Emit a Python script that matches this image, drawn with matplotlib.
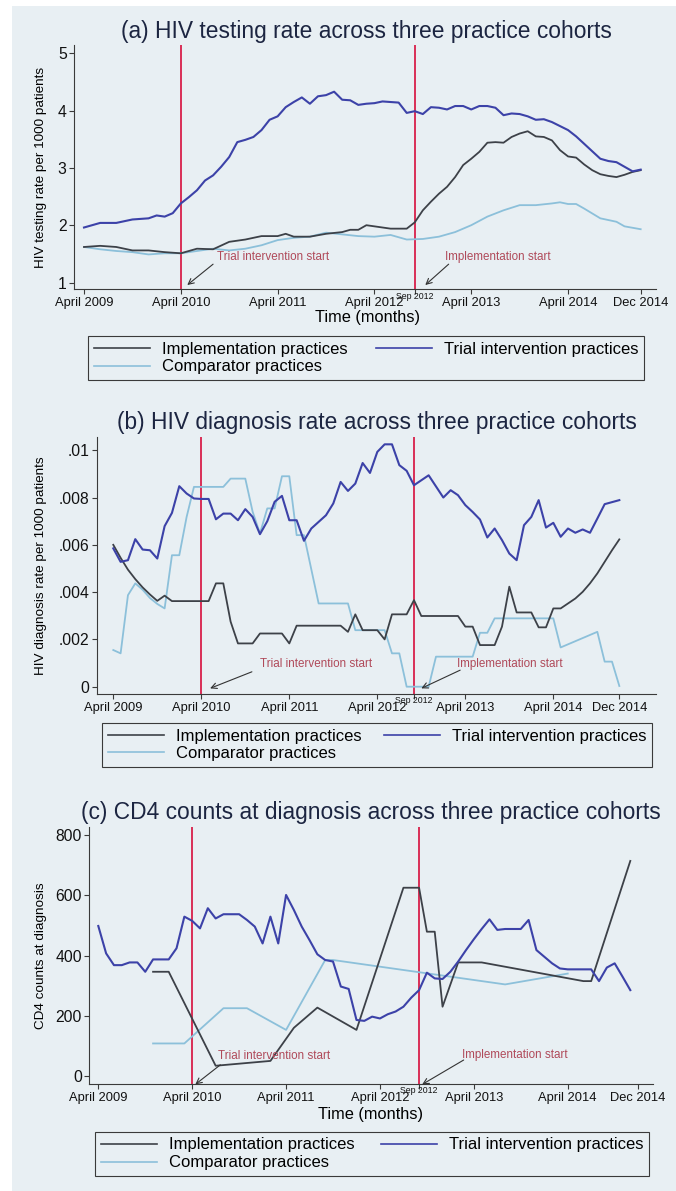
"""Three stacked Stata-style panels: HIV testing, diagnosis and CD4 counts by practice cohort."""

import matplotlib

matplotlib.use("Agg")
import matplotlib.pyplot as plt
from matplotlib.lines import Line2D
from matplotlib.patches import Rectangle

plt.rcParams["font.family"] = ["Liberation Sans", "DejaVu Sans"]

W, H = 676, 1191

# ── time axis: month index, 0 = April 2009 ───────────────────────────────────
TICK_MONTHS = [0, 12, 24, 36, 48, 60, 69]
TICK_LABELS = ["April 2009", "April 2010", "April 2011", "April 2012",
               "April 2013", "April 2014", "Dec 2014"]
SEP_2012 = 41
TRIAL_START = 12
IMPL_START = 41

# ── (a) HIV testing rate per 1000 patients ───────────────────────────────────
TEST_TRIAL_X = [0, 2, 4, 6, 8, 9, 10, 11, 12, 13, 14, 15, 16, 17, 18, 19, 20, 21,
                22, 23, 24, 25, 26, 27, 28, 29, 30, 31, 32, 33, 34, 35, 36, 37, 38,
                39, 40, 41, 42, 43, 44, 45, 46, 47, 48, 49, 50, 51, 52, 53, 54, 55,
                56, 57, 58, 59, 60, 61, 62, 63, 64, 65, 66, 67, 68, 69]
TEST_TRIAL = [1.96, 2.04, 2.04, 2.10, 2.12, 2.17, 2.15, 2.21, 2.38, 2.49, 2.61, 2.78,
              2.87, 3.02, 3.19, 3.45, 3.49, 3.54, 3.66, 3.84, 3.90, 4.06, 4.15, 4.23,
              4.12, 4.25, 4.27, 4.33, 4.19, 4.18, 4.10, 4.12, 4.13, 4.16, 4.15, 4.14,
              3.96, 3.99, 3.94, 4.06, 4.05, 4.02, 4.08, 4.08, 4.02, 4.08, 4.08, 4.05,
              3.92, 3.95, 3.94, 3.90, 3.84, 3.85, 3.80, 3.73, 3.66, 3.55, 3.42, 3.29,
              3.16, 3.12, 3.10, 3.02, 2.94, 2.97]
TEST_IMPL_X = [0, 2, 4, 6, 8, 10, 12, 14, 16, 18, 20, 22, 24, 25, 26, 28, 30, 32, 33,
               34, 35, 36, 38, 40, 41, 42, 43, 44, 45, 46, 47, 48, 49, 50, 51, 52, 53,
               54, 55, 56, 57, 58, 59, 60, 61, 62, 63, 64, 65, 66, 67, 68, 69]
TEST_IMPL = [1.62, 1.64, 1.62, 1.56, 1.56, 1.53, 1.51, 1.59, 1.58, 1.71, 1.75, 1.81,
             1.81, 1.85, 1.80, 1.80, 1.85, 1.88, 1.92, 1.92, 2.00, 1.98, 1.94, 1.94,
             2.05, 2.26, 2.41, 2.55, 2.67, 2.84, 3.05, 3.16, 3.28, 3.44, 3.45, 3.44,
             3.54, 3.60, 3.64, 3.55, 3.54, 3.48, 3.31, 3.20, 3.18, 3.06, 2.96, 2.89,
             2.86, 2.84, 2.88, 2.93, 2.96]
TEST_COMP_X = [0, 2, 4, 6, 8, 10, 12, 14, 16, 18, 20, 22, 24, 26, 28, 30, 32, 34, 36,
               38, 40, 42, 44, 46, 48, 50, 52, 54, 56, 58, 59, 60, 61, 62, 64, 66, 67, 69]
TEST_COMP = [1.62, 1.58, 1.55, 1.53, 1.49, 1.51, 1.51, 1.55, 1.59, 1.56, 1.59, 1.65,
             1.74, 1.78, 1.80, 1.87, 1.84, 1.81, 1.80, 1.83, 1.75, 1.76, 1.80, 1.88,
             2.00, 2.15, 2.26, 2.35, 2.35, 2.38, 2.40, 2.37, 2.37, 2.29, 2.12, 2.06,
             1.98, 1.93]

# ── (b) HIV diagnosis rate per 1000 patients (values in thousandths) ─────────
DIAG_TRIAL_X = list(range(0, 42)) + [43] + list(range(45, 68)) + [69]
DIAG_TRIAL = [5.85, 5.28, 5.35, 6.24, 5.80, 5.77, 5.42, 6.79, 7.35, 8.48, 8.17, 7.96,
              7.94, 7.94, 7.08, 7.32, 7.32, 7.04, 7.51, 7.18, 6.45, 7.00, 7.82, 8.07,
              7.04, 7.04, 6.17, 6.69, 6.97, 7.25, 7.75, 8.66, 8.28, 8.59, 9.46, 9.04,
              9.93, 10.25, 10.25, 9.37, 9.13, 8.52, 8.94, 8.00, 8.31, 8.10, 7.68, 7.39,
              7.07, 6.31, 6.69, 6.20, 5.63, 5.35, 6.83, 7.18, 7.89, 6.73, 6.93, 6.34,
              6.69, 6.51, 6.65, 6.51, 7.11, 7.72, 7.89]
DIAG_IMPL_X = [0, 1, 2, 3, 4, 5, 6, 7, 8, 13, 14, 15, 16, 17, 19, 20, 23, 24, 25, 31,
               32, 33, 34, 36, 37, 38, 40, 41, 42, 47, 48, 49, 50, 52, 53, 54, 55, 57,
               58, 59, 60, 61, 62, 63, 64, 65, 66, 67, 68, 69]
DIAG_IMPL = [6.00, 5.45, 4.95, 4.55, 4.20, 3.90, 3.63, 3.85, 3.62, 3.62, 4.37, 4.37,
             2.75, 1.83, 1.83, 2.25, 2.25, 1.83, 2.58, 2.58, 2.32, 3.06, 2.39, 2.39,
             2.00, 3.06, 3.06, 3.66, 2.99, 2.99, 2.54, 2.54, 1.76, 1.76, 2.54, 4.23,
             3.14, 3.14, 2.51, 2.51, 3.31, 3.31, 3.52, 3.73, 4.01, 4.37, 4.79, 5.28,
             5.77, 6.23]
DIAG_COMP_X = [0, 1, 2, 3, 4, 5, 6, 7, 8, 9, 10, 11, 15, 16, 18, 19, 20, 21, 22, 23,
               24, 25, 26, 28, 32, 33, 37, 38, 39, 40, 43, 44, 49, 50, 51, 52, 60, 61,
               66, 67, 68, 69]
DIAG_COMP = [1.55, 1.41, 3.87, 4.37, 4.10, 3.75, 3.50, 3.31, 5.56, 5.56, 7.18, 8.45,
             8.45, 8.80, 8.80, 7.40, 6.48, 7.54, 7.54, 8.90, 8.90, 6.41, 6.41, 3.52,
             3.52, 2.39, 2.39, 1.41, 1.41, 0.00, 0.00, 1.27, 1.27, 2.28, 2.28, 2.89,
             2.89, 1.66, 2.32, 1.06, 1.06, 0.03]

# ── (c) CD4 counts at diagnosis ──────────────────────────────────────────────
CD4_TRIAL_X = list(range(0, 69))
CD4_TRIAL = [498, 407, 368, 368, 377, 377, 346, 387, 387, 387, 424, 529, 515, 490,
             557, 523, 537, 537, 537, 518, 496, 440, 529, 440, 601, 551, 496, 451,
             404, 385, 380, 297, 289, 186, 183, 197, 191, 205, 214, 230, 260, 285,
             343, 324, 322, 346, 380, 418, 454, 488, 520, 485, 488, 488, 488, 518,
             418, 396, 374, 357, 354, 354, 354, 354, 315, 360, 374, 330, 285]
CD4_IMPL_X = [7, 9, 15, 22, 25, 28, 33, 39, 41, 42, 43, 44, 46, 49, 62, 63, 68]
CD4_IMPL = [346, 346, 34, 50, 160, 227, 153, 625, 625, 479, 479, 230, 377, 377,
            315, 315, 714]
CD4_COMP_X = [7, 11, 16, 19, 24, 29, 30, 52, 60]
CD4_COMP = [108, 108, 225, 225, 153, 385, 385, 304, 340]

# ── styling ──────────────────────────────────────────────────────────────────
BG = "#e8eff3"
AXIS = "#3a3a3a"
C_IMPL = "#3d4148"
C_TRIAL = "#3c42a8"
C_COMP = "#8cc0da"
C_RED = "#d81f4a"
C_NOTE = "#b04a5a"
C_TITLE = "#1c2541"


def make_axes(fig, left, top, right, bottom, xlim, ylim):
    """Axes placed by pixel box (left, top, right, bottom) on the 676x1191 canvas."""
    ax = fig.add_axes([left / W, 1 - bottom / H, (right - left) / W, (bottom - top) / H])
    ax.set_facecolor("none")
    for s in ("top", "right"):
        ax.spines[s].set_visible(False)
    for s in ("left", "bottom"):
        ax.spines[s].set_color(AXIS)
        ax.spines[s].set_linewidth(0.8)
    ax.set_xlim(*xlim)
    ax.set_ylim(*ylim)
    ax.set_xticks(TICK_MONTHS, TICK_LABELS)
    ax.set_xticks([SEP_2012], ["Sep 2012"], minor=True)
    ax.tick_params(axis="both", which="both", direction="out", length=3.3,
                   width=0.8, color=AXIS, labelcolor="#111111")
    ax.tick_params(axis="x", which="major", labelsize=9.3, pad=2.2)
    ax.tick_params(axis="x", which="minor", labelsize=6.3, pad=-1.8)
    ax.tick_params(axis="y", labelsize=11.3, pad=2)
    ax.axvline(TRIAL_START, color=C_RED, lw=1.3, zorder=1)
    ax.axvline(IMPL_START, color=C_RED, lw=1.3, zorder=1)
    return ax


def note(ax, text, text_xy, tail, head):
    ax.text(text_xy[0], text_xy[1], text, color=C_NOTE, fontsize=8.4,
            ha="left", va="center")
    ax.annotate("", xy=head, xytext=tail,
                arrowprops=dict(arrowstyle="->", color="#333333", lw=0.8,
                                shrinkA=0, shrinkB=0))


def add_legend(fig, left, top, right, bottom):
    handles = [Line2D([], [], color=C_IMPL, lw=1.2),
               Line2D([], [], color=C_COMP, lw=1.2),
               Line2D([], [], color=C_TRIAL, lw=1.2)]
    labels = ["Implementation practices", "Comparator practices",
              "Trial intervention practices"]
    leg = fig.legend(handles, labels, ncol=2, loc="upper left", mode="expand",
                     bbox_to_anchor=(left / W, 1 - bottom / H, (right - left) / W,
                                     (bottom - top) / H),
                     bbox_transform=fig.transFigure, borderaxespad=0,
                     fancybox=False, edgecolor=AXIS, facecolor=BG, framealpha=1,
                     fontsize=12, handlelength=3.4, handletextpad=0.7,
                     labelspacing=0.17, borderpad=0.33)
    leg.get_frame().set_linewidth(0.8)


fig = plt.figure(figsize=(W / 100, H / 100), dpi=100, facecolor="white")
fig.add_artist(Rectangle((12 / W, 0), 1, 1 - 6 / H, transform=fig.transFigure,
                         facecolor=BG, edgecolor="none", zorder=-10))

# ── (a) ──────────────────────────────────────────────────────────────────────
ax = make_axes(fig, 74, 45, 656, 289.5, (-1.24, 70.9), (0.878, 5.145))
ax.plot(TEST_COMP_X, TEST_COMP, color=C_COMP, lw=1.3)
ax.plot(TEST_IMPL_X, TEST_IMPL, color=C_IMPL, lw=1.3)
ax.plot(TEST_TRIAL_X, TEST_TRIAL, color=C_TRIAL, lw=1.5)
ax.set_yticks([1, 2, 3, 4, 5])
note(ax, "Trial intervention start", (16.5, 1.445), (16.0, 1.32), (12.8, 0.956))
note(ax, "Implementation start", (44.7, 1.445), (45.2, 1.32), (42.3, 0.956))
fig.text(366 / W, 1 - 31.7 / H, "(a) HIV testing rate across three practice cohorts",
         ha="center", va="center", fontsize=16.4, color=C_TITLE)
fig.text(41 / W, 1 - 167 / H, "HIV testing rate per 1000 patients", rotation=90,
         ha="center", va="center", fontsize=9.7)
fig.text(367 / W, 1 - 318 / H, "Time (months)", ha="center", va="center", fontsize=11.8)
add_legend(fig, 88, 336, 644, 381)

# ── (b) ──────────────────────────────────────────────────────────────────────
ax = make_axes(fig, 97, 437, 656, 694, (-2.22, 74.0), (-0.000309, 0.01056))
ax.plot(DIAG_COMP_X, [v / 1000 for v in DIAG_COMP], color=C_COMP, lw=1.3)
ax.plot(DIAG_IMPL_X, [v / 1000 for v in DIAG_IMPL], color=C_IMPL, lw=1.3)
ax.plot(DIAG_TRIAL_X, [v / 1000 for v in DIAG_TRIAL], color=C_TRIAL, lw=1.5)
ax.set_yticks([0, 0.002, 0.004, 0.006, 0.008, 0.01],
              ["0", ".002", ".004", ".006", ".008", ".01"])
note(ax, "Trial intervention start", (20.0, 0.00096), (18.9, 0.00063), (13.2, -0.00007))
note(ax, "Implementation start", (46.9, 0.00096), (47.3, 0.0007), (42.0, -0.00007))
fig.text(377 / W, 1 - 423 / H, "(b) HIV diagnosis rate across three practice cohorts",
         ha="center", va="center", fontsize=16.4, color=C_TITLE)
fig.text(41 / W, 1 - 566 / H, "HIV diagnosis rate per 1000 patients", rotation=90,
         ha="center", va="center", fontsize=9.7)
add_legend(fig, 102, 723, 652, 767)

# ── (c) ──────────────────────────────────────────────────────────────────────
ax = make_axes(fig, 89.3, 826.7, 653, 1084.3, (-1.15, 70.9), (-27.6, 827.6))
ax.plot(CD4_COMP_X, CD4_COMP, color=C_COMP, lw=1.3)
ax.plot(CD4_IMPL_X, CD4_IMPL, color=C_IMPL, lw=1.3)
ax.plot(CD4_TRIAL_X, CD4_TRIAL, color=C_TRIAL, lw=1.5)
ax.set_yticks([0, 200, 400, 600, 800])
note(ax, "Trial intervention start", (15.3, 67), (15.6, 37), (12.4, -28))
note(ax, "Implementation start", (46.5, 70), (46.7, 53), (41.4, -28))
fig.text(371 / W, 1 - 813 / H, "(c) CD4 counts at diagnosis across three practice cohorts",
         ha="center", va="center", fontsize=16.4, color=C_TITLE)
fig.text(41 / W, 1 - 956 / H, "CD4 counts at diagnosis", rotation=90,
         ha="center", va="center", fontsize=9.7)
fig.text(371 / W, 1 - 1115 / H, "Time (months)", ha="center", va="center", fontsize=11.8)
add_legend(fig, 95, 1132, 649, 1177)

fig.savefig("out.png", dpi=100, facecolor=fig.get_facecolor())
plt.close(fig)
